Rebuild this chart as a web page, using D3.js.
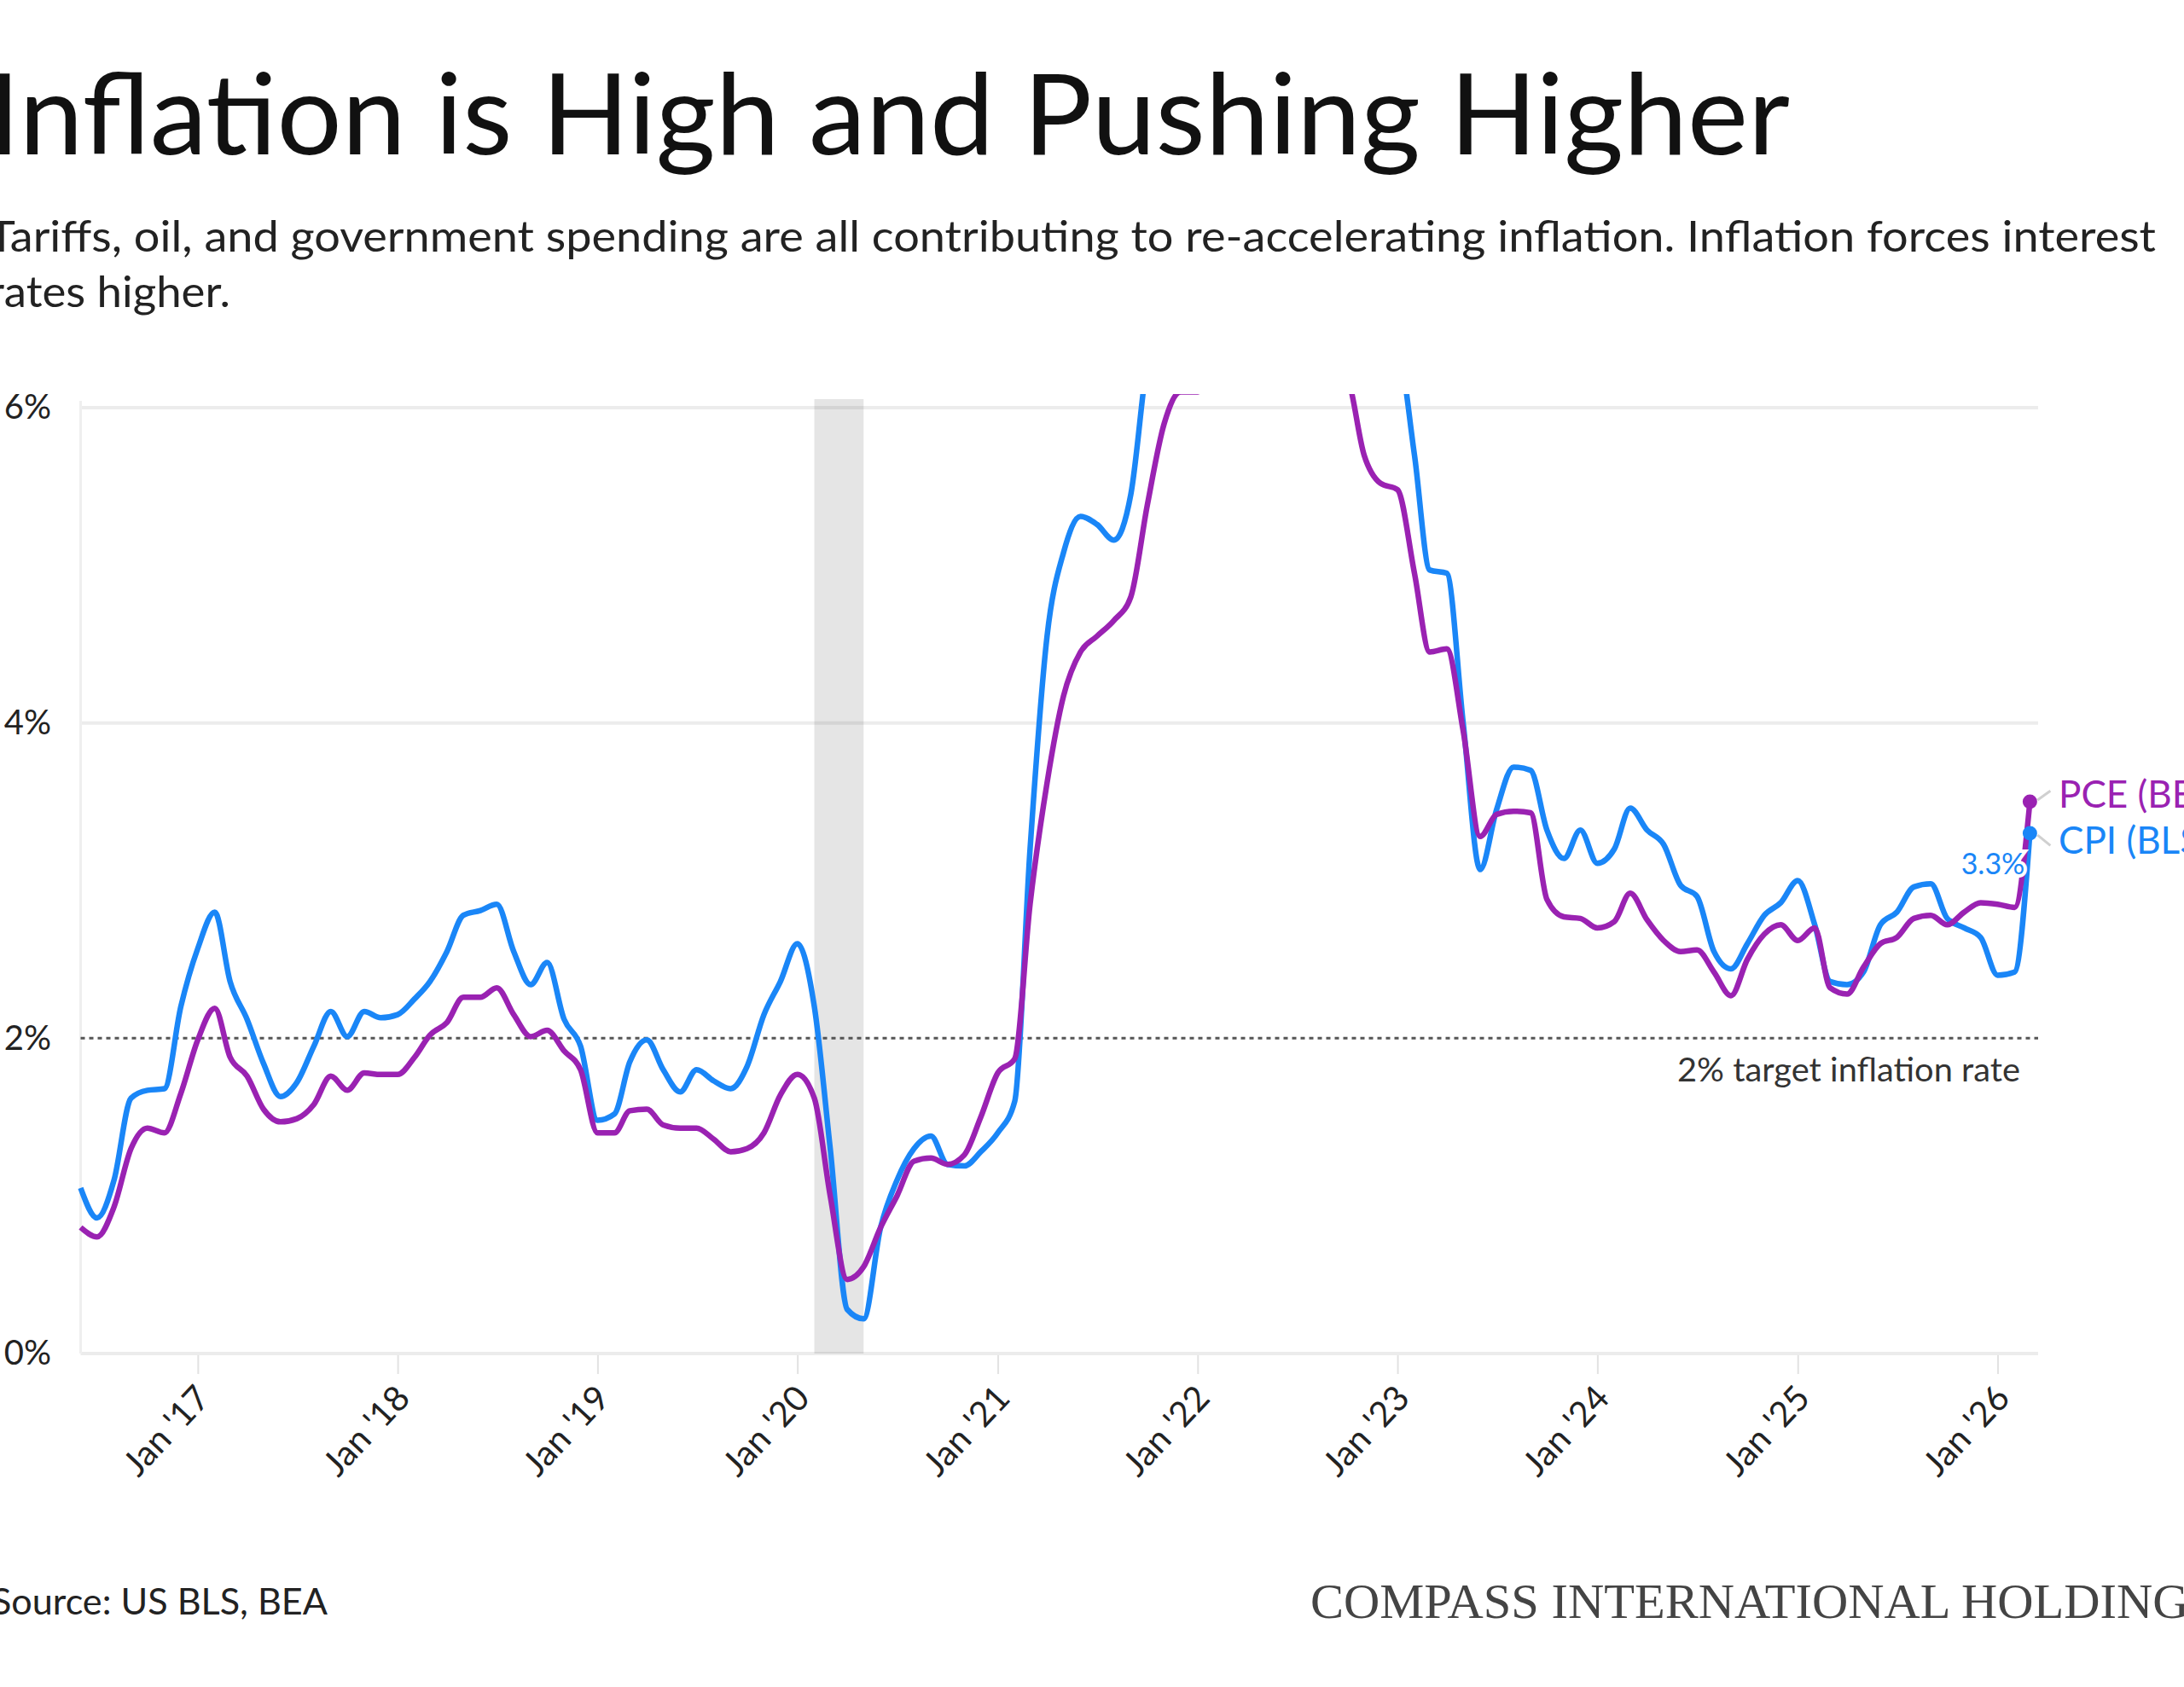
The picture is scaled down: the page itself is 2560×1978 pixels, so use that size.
<!DOCTYPE html>
<html>
<head>
<meta charset="utf-8">
<script src="https://cdn.jsdelivr.net/npm/d3@7"></script>
<style>
  html, body { margin: 0; padding: 0; background: #fff; }
  svg { display: block; }
</style>
</head>
<body>
<svg id="chart" width="2560" height="1978"></svg>
<script>
// monthly series, first value = Jun 2016
const startMonth = new Date(2016, 5, 1);
const cpi = [
  1.05, 0.86, 1.10, 1.62, 1.67, 1.68, 2.20, 2.57, 2.80, 2.36,
  2.12, 1.84, 1.63, 1.72, 1.95, 2.17, 2.01, 2.17, 2.13, 2.15,
  2.25, 2.36, 2.55, 2.78, 2.81, 2.85, 2.55, 2.34, 2.48, 2.12,
  1.95, 1.48, 1.52, 1.85, 1.99, 1.80, 1.66, 1.80, 1.73, 1.68,
  1.82, 2.15, 2.36, 2.60, 2.20, 1.30, 0.28, 0.22, 0.80, 1.10,
  1.30, 1.38, 1.20, 1.19, 1.28, 1.40, 1.60, 3.20, 4.55, 5.08,
  5.31, 5.26, 5.16, 5.45, 6.30, 6.80, 7.00, 7.50, 7.90, 8.50,
  8.30, 8.60, 9.10, 8.50, 8.30, 8.20, 7.70, 7.10, 6.50, 6.40,
  5.70, 4.97, 4.95, 4.00, 3.07, 3.45, 3.72, 3.70, 3.32, 3.14,
  3.32, 3.11, 3.20, 3.46, 3.32, 3.23, 2.97, 2.90, 2.55, 2.44,
  2.60, 2.78, 2.86, 3.00, 2.72, 2.36, 2.34, 2.42, 2.72, 2.80,
  2.96, 2.98, 2.76, 2.70, 2.64, 2.40, 2.42, 3.30
];
const pce = [
  0.80, 0.74, 0.93, 1.30, 1.43, 1.40, 1.65, 1.99, 2.19, 1.88,
  1.76, 1.55, 1.47, 1.49, 1.58, 1.76, 1.67, 1.78, 1.77, 1.77,
  1.88, 2.02, 2.10, 2.26, 2.26, 2.32, 2.15, 2.01, 2.05, 1.92,
  1.80, 1.40, 1.40, 1.54, 1.55, 1.45, 1.43, 1.43, 1.36, 1.28,
  1.30, 1.40, 1.64, 1.77, 1.62, 1.00, 0.47, 0.55, 0.80, 1.00,
  1.22, 1.24, 1.20, 1.26, 1.50, 1.78, 1.87, 2.85, 3.62, 4.17,
  4.45, 4.55, 4.65, 4.80, 5.38, 5.90, 6.10, 6.10, 6.40, 6.60,
  6.30, 6.40, 6.80, 6.40, 6.30, 6.30, 6.20, 5.70, 5.52, 5.48,
  4.95, 4.45, 4.47, 3.95, 3.28, 3.42, 3.44, 3.43, 2.88, 2.77,
  2.76, 2.70, 2.74, 2.92, 2.75, 2.62, 2.55, 2.56, 2.42, 2.27,
  2.50, 2.66, 2.72, 2.62, 2.70, 2.32, 2.28, 2.45, 2.60, 2.64,
  2.76, 2.78, 2.72, 2.80, 2.86, 2.85, 2.83, 3.50
];
const yTicks = [0, 2, 4, 6];
const gridValues = [0, 4, 6];
const targetRate = 2;
const tickYears = [2017, 2018, 2019, 2020, 2021, 2022, 2023, 2024, 2025, 2026];
const recession = [new Date(2020, 1, 1), new Date(2020, 4, 1)];
const seriesNames = ['CPI (BLS)', 'PCE (BEA)'];

const BLUE = '#1a86f7', PURPLE = '#9a22b2';
const FONT = 'Lato, "Open Sans", sans-serif';

const svg = d3.select('#chart');
svg.append('rect').attr('width', 2560).attr('height', 1978).attr('fill', '#fff');

const mL = 94.5, mR = 2389, yTop = 478, yBot = 1587;
const x = d3.scaleTime().domain([startMonth, new Date(2026, 2, 16)]).range([mL, mR]);
const y = d3.scaleLinear().domain([0, 6]).range([yBot, yTop]);

const toPts = arr => arr.map((v, i) => ({ date: d3.timeMonth.offset(startMonth, i), v }));
const cpiPts = toPts(cpi), pcePts = toPts(pce);

// titles (the reference is cropped on the left, so these start just off-canvas)
svg.append('text').attr('x', -14).attr('y', 181)
  .attr('font-family', FONT).attr('font-size', 132).attr('fill', '#111')
  .attr('textLength', 2112).attr('lengthAdjust', 'spacingAndGlyphs')
  .text('Inflation is High and Pushing Higher');
svg.append('text').attr('x', -14).attr('y', 295)
  .attr('font-family', FONT).attr('font-size', 50).attr('fill', '#222')
  .attr('textLength', 2541).attr('lengthAdjust', 'spacingAndGlyphs')
  .text('Tariffs, oil, and government spending are all contributing to re-accelerating inflation. Inflation forces interest');
svg.append('text').attr('x', -14).attr('y', 360)
  .attr('font-family', FONT).attr('font-size', 50).attr('fill', '#222')
  .attr('textLength', 284).attr('lengthAdjust', 'spacingAndGlyphs')
  .text('rates higher.');

// grid
gridValues.forEach(t => {
  svg.append('line').attr('x1', mL).attr('x2', mR).attr('y1', y(t)).attr('y2', y(t))
    .attr('stroke', '#ececec').attr('stroke-width', 4);
});
svg.append('line').attr('x1', mL).attr('x2', mL).attr('y1', yTop - 8).attr('y2', yBot)
  .attr('stroke', '#efefef').attr('stroke-width', 3);

// recession band
svg.append('rect').attr('x', x(recession[0])).attr('y', yTop - 10)
  .attr('width', x(recession[1]) - x(recession[0])).attr('height', yBot - yTop + 10)
  .attr('fill', '#000').attr('opacity', 0.1);

// axes
const yAxis = svg.append('g').attr('transform', `translate(60,0)`)
  .call(d3.axisLeft(y).tickValues(yTicks).tickFormat(d => d + '%').tickSize(0).tickPadding(0));
yAxis.select('.domain').remove();
yAxis.selectAll('text').attr('font-family', FONT).attr('font-size', 40).attr('fill', '#222');

const xAxis = svg.append('g').attr('transform', `translate(0,${yBot + 2})`)
  .call(d3.axisBottom(x).tickValues(tickYears.map(yr => new Date(yr, 0, 1)))
    .tickFormat(d3.timeFormat("Jan '%y")).tickSize(22));
xAxis.select('.domain').remove();
xAxis.selectAll('.tick line').attr('stroke', '#e2e2e2').attr('stroke-width', 2);
xAxis.selectAll('text').attr('font-family', FONT).attr('font-size', 41).attr('fill', '#222')
  .attr('text-anchor', 'end').attr('x', null).attr('y', null).attr('dy', null)
  .attr('transform', 'translate(16,52) rotate(-47)');

// 2% target
svg.append('line').attr('x1', mL).attr('x2', mR).attr('y1', y(targetRate)).attr('y2', y(targetRate))
  .attr('stroke', '#555').attr('stroke-width', 3).attr('stroke-dasharray', '5 5');
svg.append('text').attr('x', 2368).attr('y', y(targetRate) + 51).attr('text-anchor', 'end')
  .attr('font-family', FONT).attr('font-size', 38).attr('fill', '#333')
  .attr('textLength', 402).attr('lengthAdjust', 'spacingAndGlyphs')
  .text('2% target inflation rate');

// lines
svg.append('defs').append('clipPath').attr('id', 'plotClip').append('rect')
  .attr('x', mL - 4).attr('y', yTop - 16).attr('width', mR - mL + 20).attr('height', yBot - yTop + 40);
const line = d3.line().x(d => x(d.date)).y(d => y(d.v)).curve(d3.curveMonotoneX);
const lines = svg.append('g').attr('clip-path', 'url(#plotClip)');
lines.append('path').datum(cpiPts).attr('d', line).attr('fill', 'none')
  .attr('stroke', BLUE).attr('stroke-width', 6.5).attr('stroke-linejoin', 'round');
lines.append('path').datum(pcePts).attr('d', line).attr('fill', 'none')
  .attr('stroke', PURPLE).attr('stroke-width', 6.5).attr('stroke-linejoin', 'round');

// end labels
const lastC = cpiPts[cpiPts.length - 1], lastP = pcePts[pcePts.length - 1];
svg.append('text').attr('x', x(lastC.date) - 6).attr('y', y(lastC.v) + 48).attr('text-anchor', 'end')
  .attr('font-family', FONT).attr('font-size', 34).attr('fill', BLUE)
  .attr('stroke', '#fff').attr('stroke-width', 8).attr('paint-order', 'stroke')
  .text(d3.format('.1f')(lastC.v) + '%');

[[lastP, PURPLE, seriesNames[1], -8], [lastC, BLUE, seriesNames[0], 9]].forEach(([p, col, name, off]) => {
  const cx = x(p.date), cy = y(p.v);
  svg.append('line').attr('x1', cx + 9).attr('y1', cy + (off < 0 ? -2 : 2))
    .attr('x2', cx + 24).attr('y2', cy + off * 1.6)
    .attr('stroke', '#d0d0d0').attr('stroke-width', 3);
  svg.append('circle').attr('cx', cx).attr('cy', cy).attr('r', 8.5).attr('fill', col);
  svg.append('text').attr('x', 2413).attr('y', cy + off).attr('dy', '0.35em')
    .attr('font-family', FONT).attr('font-size', 44).attr('fill', col).text(name);
});

// footer
svg.append('text').attr('x', -10).attr('y', 1893)
  .attr('font-family', FONT).attr('font-size', 42).attr('fill', '#222')
  .attr('textLength', 394).attr('lengthAdjust', 'spacingAndGlyphs')
  .text('Source: US BLS, BEA');
svg.append('text').attr('x', 1536).attr('y', 1897)
  .attr('font-family', '"Liberation Serif", "DejaVu Serif", serif').attr('font-size', 56).attr('fill', '#444')
  .attr('textLength', 1062).attr('lengthAdjust', 'spacingAndGlyphs')
  .text('COMPASS INTERNATIONAL HOLDINGS');
</script>
</body>
</html>
